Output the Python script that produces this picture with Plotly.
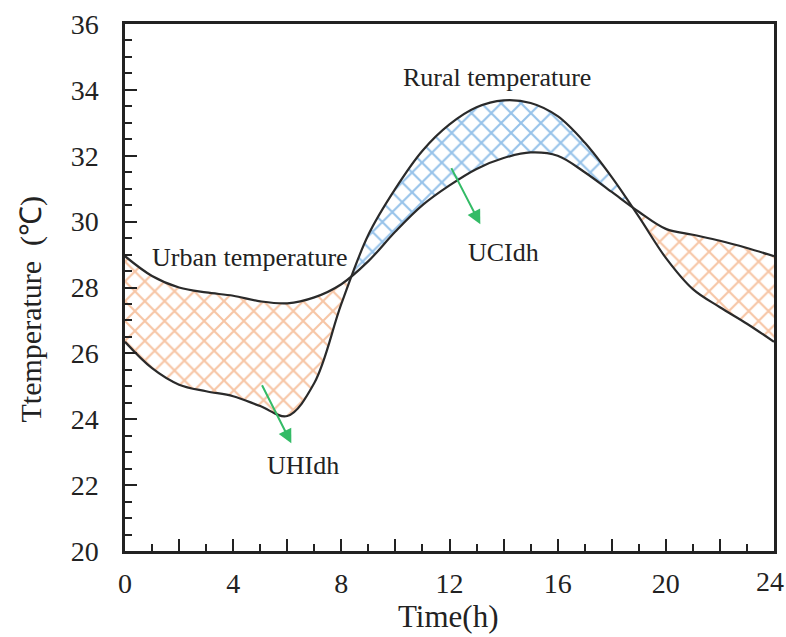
import plotly.graph_objects as go

# ---------------- data ----------------
hours = list(range(25))
urban = [28.95, 28.35, 28.0, 27.85, 27.75, 27.58, 27.52, 27.7, 28.1, 28.8,
         29.7, 30.5, 31.1, 31.6, 31.93, 32.1, 32.0, 31.5, 30.9, 30.3,
         29.78, 29.6, 29.42, 29.2, 28.95]
rural = [26.35, 25.55, 25.05, 24.85, 24.7, 24.4, 24.1, 25.1, 27.5, 29.6,
         31.0, 32.15, 32.95, 33.47, 33.68, 33.6, 33.2, 32.4, 31.35, 30.15,
         28.9, 27.95, 27.4, 26.9, 26.35]
x_tick_vals = list(range(0, 25, 2))
x_tick_text = [str(v) if (v % 4 == 0 and v < 24) else "" for v in x_tick_vals]
y_tick_vals = list(range(20, 37, 2))

ORANGE = "#EE8C4C"
BLUE = "#2F86D4"
LINE = "#2A2A2A"
FONT = "Liberation Serif"
TXT = "#222222"

# ---------------- split into warm / cool regions ----------------
segments = []          # (x, lower, upper, urban_hot)
cur_x, cur_u, cur_r = [hours[0]], [urban[0]], [rural[0]]
for i in range(1, len(hours)):
    d0 = urban[i - 1] - rural[i - 1]
    d1 = urban[i] - rural[i]
    if d0 * d1 < 0:
        t = d0 / (d0 - d1)
        xc = hours[i - 1] + t * (hours[i] - hours[i - 1])
        yc = urban[i - 1] + t * (urban[i] - urban[i - 1])
        cur_x.append(xc); cur_u.append(yc); cur_r.append(yc)
        segments.append((cur_x, cur_u, cur_r, d0 > 0))
        cur_x, cur_u, cur_r = [xc], [yc], [yc]
    cur_x.append(hours[i]); cur_u.append(urban[i]); cur_r.append(rural[i])
segments.append((cur_x, cur_u, cur_r, (urban[-1] - rural[-1]) > 0))

fig = go.Figure()
for seg_x, seg_u, seg_r, urban_hot in segments:
    lower = seg_r if urban_hot else seg_u
    upper = seg_u if urban_hot else seg_r
    col = ORANGE if urban_hot else BLUE
    fig.add_trace(go.Scatter(x=seg_x, y=lower, mode="lines",
                             line=dict(width=0, shape="spline", smoothing=1),
                             hoverinfo="skip", showlegend=False))
    fig.add_trace(go.Scatter(x=seg_x, y=upper, mode="lines",
                             line=dict(width=0, shape="spline", smoothing=1),
                             fill="tonexty", fillcolor="rgba(0,0,0,0)",
                             fillpattern=dict(shape="x", fgcolor=col,
                                              bgcolor="rgba(255,255,255,0)",
                                              size=14, solidity=0.28),
                             hoverinfo="skip", showlegend=False))

fig.add_trace(go.Scatter(x=hours, y=urban, mode="lines", name="Urban temperature",
                         line=dict(color=LINE, width=2.2, shape="spline", smoothing=1),
                         showlegend=False))
fig.add_trace(go.Scatter(x=hours, y=rural, mode="lines", name="Rural temperature",
                         line=dict(color=LINE, width=2.2, shape="spline", smoothing=1),
                         showlegend=False))

axis_common = dict(
    showgrid=False, zeroline=False, showline=True, linecolor=TXT,
    linewidth=2.5, mirror=True, ticks="inside", tickwidth=2, tickcolor=TXT,
    ticklen=12, tickfont=dict(family=FONT, size=28, color=TXT),
)
fig.update_xaxes(range=[0, 24], tickmode="array", tickvals=x_tick_vals,
                 ticktext=x_tick_text, ticklabelstandoff=6,
                 minor=dict(dtick=1, tick0=0, ticks="inside", ticklen=7,
                            tickwidth=2, tickcolor=TXT),
                 **axis_common)
fig.update_yaxes(range=[20, 36], tickmode="array", tickvals=y_tick_vals,
                 ticklabelstandoff=18,
                 minor=dict(dtick=0.5, tick0=20, ticks="inside", ticklen=7,
                            tickwidth=2, tickcolor=TXT),
                 **axis_common)

ann_font = dict(family=FONT, size=26, color=TXT)
annotations = [
    dict(text="Urban temperature", x=4.61, y=28.9, xref="x", yref="y",
         showarrow=False, font=ann_font),
    dict(text="Rural temperature", x=13.77, y=34.37, xref="x", yref="y",
         showarrow=False, font=ann_font),
    dict(text="UCIdh", x=14.0, y=29.05, xref="x", yref="y",
         showarrow=False, font=ann_font),
    dict(text="UHIdh", x=6.6, y=22.6, xref="x", yref="y",
         showarrow=False, font=ann_font),
    dict(text="", x=6.15, y=23.27, ax=5.04, ay=25.08, xref="x", yref="y",
         axref="x", ayref="y", showarrow=True, arrowhead=2, arrowsize=1.4,
         arrowwidth=2, arrowcolor="#33BB66"),
    dict(text="", x=13.14, y=29.92, ax=12.04, ay=31.67, xref="x", yref="y",
         axref="x", ayref="y", showarrow=True, arrowhead=2, arrowsize=1.4,
         arrowwidth=2, arrowcolor="#33BB66"),
    dict(text="24", x=24, y=-0.057, xref="x", yref="paper", xanchor="right",
         yanchor="middle", xshift=12, showarrow=False,
         font=dict(family=FONT, size=28, color=TXT)),
    dict(text="Time(h)", x=0.497, y=-0.125, xref="paper", yref="paper",
         showarrow=False, yanchor="middle",
         font=dict(family=FONT, size=31, color=TXT)),
    dict(text="Ttemperature  (℃)", x=-0.145, y=0.46, xref="paper", yref="paper",
         showarrow=False, textangle=-90, xanchor="center", yanchor="middle",
         font=dict(family=FONT, size=30, color=TXT)),
]

fig.update_layout(
    width=786, height=637,
    margin=dict(l=125, r=9, t=22, b=86),
    paper_bgcolor="white", plot_bgcolor="white",
    annotations=annotations,
)

fig.write_html("out.html")
